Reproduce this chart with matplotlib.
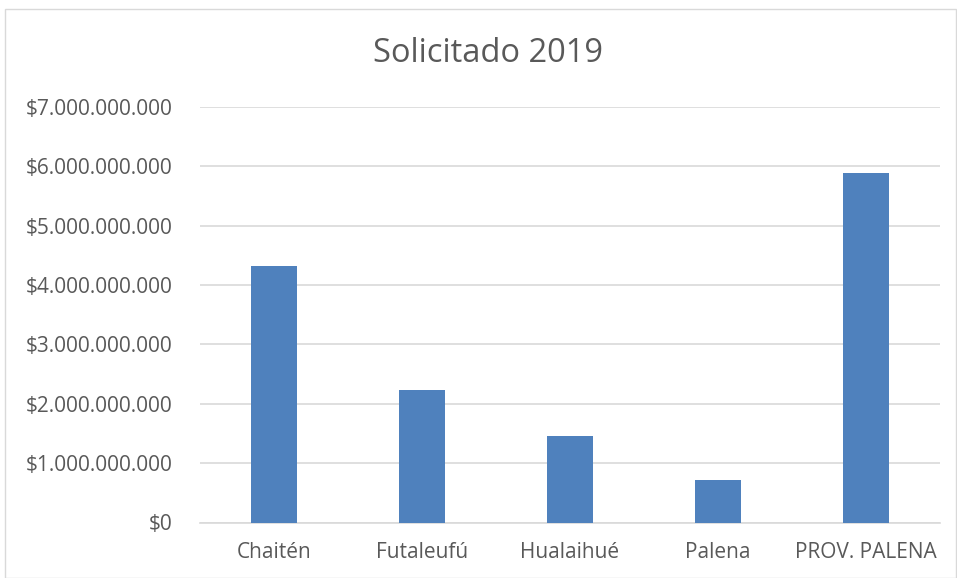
import matplotlib
matplotlib.use("Agg")
import matplotlib.pyplot as plt
from matplotlib.ticker import FuncFormatter
from matplotlib.patches import Rectangle

categories = ["Chaitén", "Futaleufú", "Hualaihué", "Palena", "PROV. PALENA"]
values = [4.32e9, 2.232e9, 1.457e9, 0.716e9, 5.883e9]
title = "Solicitado 2019"

plt.rcParams['font.family'] = ['Open Sans', 'DejaVu Sans']
txt = '#595959'

fig = plt.figure(figsize=(9.57, 5.78), dpi=100)
fig.patches.append(Rectangle((5/957, 0), 1 - 5/957 - 1/957, 1 - 9/578, transform=fig.transFigure,
                             fill=False, edgecolor='#d9d9d9', linewidth=1))
ax = fig.add_axes([200/957, 1 - 522.5/578, 740/957, (522.5 - 107)/578])

x = range(len(categories))
ax.bar(x, values, width=0.31, color='#4f81bd', zorder=3)
ax.set_xlim(-0.5, len(categories) - 0.5)
ax.set_ylim(0, 7e9)
ax.set_yticks([i * 1e9 for i in range(8)])

def fmt(v, pos):
    return "$" + f"{int(round(v)):,}".replace(",", ".")
ax.yaxis.set_major_formatter(FuncFormatter(fmt))
ax.set_xticks(list(x))
ax.set_xticklabels(categories)

ax.grid(axis='y', color='#d9d9d9', linewidth=1.2, zorder=0)
for s in ['top', 'right', 'left']:
    ax.spines[s].set_visible(False)
ax.spines['bottom'].set_color('#d9d9d9')
ax.spines['bottom'].set_linewidth(1.2)
ax.tick_params(axis='both', length=0, labelsize=15, colors=txt)
ax.tick_params(axis='y', pad=20)
ax.tick_params(axis='x', pad=14)

fig.text(488/957, 1 - 54/578, title, ha='center', va='center', fontsize=23.5, color=txt)

fig.savefig("out.png", dpi=100)
